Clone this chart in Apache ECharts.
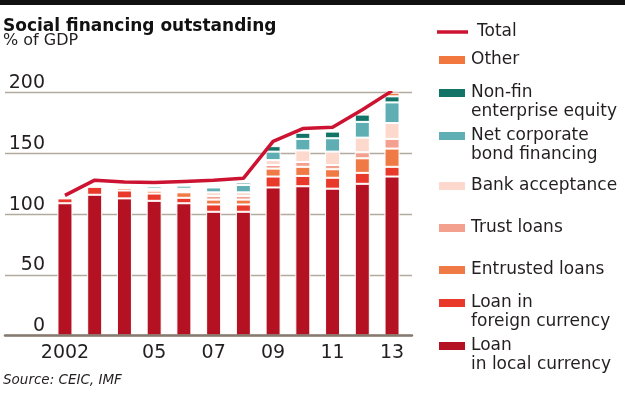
<!DOCTYPE html>
<html>
<head>
<meta charset="utf-8">
<script src="https://cdn.jsdelivr.net/npm/echarts@6/dist/echarts.min.js"></script>
<style>
html, body { margin: 0; padding: 0; background: #fff; }
#main { width: 625px; height: 397px; }
</style>
</head>
<body>
<div id="main"></div>
<script>
// data, % of GDP
const years = ['2002', '2003', '2004', '2005', '2006', '2007', '2008', '2009', '2010', '2011', '2012', '2013'];
const yearLabels = { '2002': '2002', '2005': '05', '2007': '07', '2009': '09', '2011': '11', '2013': '13' };
const localLoans   = [109, 116, 113, 111, 109, 102, 102, 122, 123, 121, 125, 131];
const foreignLoans = [4, 6.5, 6.5, 6, 4.5, 6, 6, 9, 8.5, 9, 9, 8];
const entrusted    = [0, 0, 2, 2.3, 4.5, 4, 4, 6.5, 7.5, 7, 12, 15];
const trustLoans   = [0, 0, 0, 0, 1, 3, 3, 3, 4, 3.5, 5, 8];
const bankAccept   = [1, 1.5, 1.5, 1.5, 2, 3, 3, 4, 9.5, 11, 12, 13];
const bondFin      = [0, 0, 0, 2, 2.5, 4, 6, 7, 9.5, 11, 13, 17];
const equityFin    = [0, 0, 0, 0, 0.3, 1, 2, 4.5, 5, 5.5, 6, 5];
const otherFin     = [0, 0, 0, 0, 0, 0, 0, 0, 0, 0, 1.5, 3];
const total        = [115.5, 128, 126.5, 126, 127, 128, 129.5, 160, 170.5, 171.5, 186, 201.5];

const chart = echarts.init(document.getElementById('main'));
const font = 'DejaVu Sans';
const ink = '#231f20';

const stacks = [
  { name: 'Loan\nin local currency', data: localLoans, color: '#b41222' },
  { name: 'Loan in\nforeign currency', data: foreignLoans, color: '#e8392b' },
  { name: 'Entrusted loans', data: entrusted, color: '#f07a45' },
  { name: 'Trust loans', data: trustLoans, color: '#f4a08f' },
  { name: 'Bank acceptance', data: bankAccept, color: '#fdd9cd' },
  { name: 'Net corporate\nbond financing', data: bondFin, color: '#5eaeb4' },
  { name: 'Non-fin\nenterprise equity', data: equityFin, color: '#127466' },
  { name: 'Other', data: otherFin, color: '#f2773f' }
];

const barSeries = stacks.map(s => ({
  name: s.name,
  type: 'bar',
  stack: 'sf',
  xAxisIndex: 1,
  yAxisIndex: 1,
  barWidth: 15,
  itemStyle: { color: s.color, borderColor: '#fff', borderWidth: 1 },
  data: s.data.map(v => v || null)
}));

// legend rows: icon centre y for each entry
const legendRows = [
  ['Total', 32], ['Other', 60], ['Non-fin\nenterprise equity', 93],
  ['Net corporate\nbond financing', 136], ['Bank acceptance', 186],
  ['Trust loans', 228], ['Entrusted loans', 270],
  ['Loan in\nforeign currency', 303], ['Loan\nin local currency', 346]
];
const legends = legendRows.map(([name, c]) => {
  const two = name.indexOf('\n') >= 0;
  const isTotal = name === 'Total';
  return {
    data: [name],
    left: 437,
    top: two ? c - 28.5 : c - 9.5,
    padding: 0,
    selectedMode: false,
    icon: 'rect',
    itemWidth: isTotal ? 31 : 28,
    itemHeight: isTotal ? 3.5 : 10,
    // a leading blank line keeps the icon level with the first text line
    formatter: n => (two ? '\n' + n : n),
    textStyle: {
      fontFamily: font, fontSize: 17, color: ink, lineHeight: 19,
      padding: isTotal ? [0, 0, 0, 4] : 0
    }
  };
});

const gridTop = 92.7, gridBottom = 61.3;

chart.setOption({
  animation: false,
  title: [
    { text: 'Social financing outstanding', left: 3, top: 18, padding: 0,
      textStyle: { fontFamily: font, fontSize: 17, fontWeight: 'bold', color: '#111', lineHeight: 18 } },
    { text: '% of GDP', left: 3, top: 32, padding: 0,
      textStyle: { fontFamily: font, fontSize: 16, fontWeight: 'normal', color: ink, lineHeight: 17 } },
    { text: 'Source: CEIC, IMF', left: 3, top: 372, padding: 0,
      textStyle: { fontFamily: font, fontSize: 13.5, fontStyle: 'italic', fontWeight: 'normal', color: ink, lineHeight: 16 } }
  ],
  legend: legends,
  graphic: [
    { type: 'rect', shape: { x: 0, y: 0, width: 625, height: 5 }, style: { fill: '#111' } }
  ],
  grid: [
    { left: 5, right: 213, top: gridTop, bottom: gridBottom, outerBoundsMode: 'none' },
    { left: 50.1, right: 218.1, top: gridTop, bottom: gridBottom, outerBoundsMode: 'none' }
  ],
  xAxis: [
    {
      gridIndex: 0, type: 'value', min: 0, max: 1, z: 5,
      splitLine: { show: false }, axisTick: { show: false }, axisLabel: { show: false },
      axisLine: { lineStyle: { color: '#857a6f', width: 2.5 } }
    },
    {
      gridIndex: 1, type: 'category', data: years,
      axisLine: { show: false }, axisTick: { show: false },
      axisLabel: {
        interval: 0, margin: 8, fontFamily: font, fontSize: 19, color: ink,
        formatter: v => yearLabels[v] || ''
      }
    }
  ],
  yAxis: [
    {
      gridIndex: 0, type: 'value', min: 0, max: 200, interval: 50,
      axisLine: { show: false }, axisTick: { show: false },
      splitLine: { lineStyle: { color: '#b3aa9f', width: 1.3 } },
      axisLabel: { inside: true, margin: 40, align: 'right', verticalAlign: 'bottom',
        fontFamily: font, fontSize: 19, color: ink }
    },
    {
      gridIndex: 1, type: 'value', min: 0, max: 200, interval: 50,
      show: false
    }
  ],
  series: barSeries.concat([{
    name: 'Total',
    type: 'line',
    xAxisIndex: 1,
    yAxisIndex: 1,
    symbol: 'none',
    z: 6,
    itemStyle: { color: '#cc1332' },
    lineStyle: { color: '#cc1332', width: 3.5 },
    data: total
  }])
});
</script>
</body>
</html>
